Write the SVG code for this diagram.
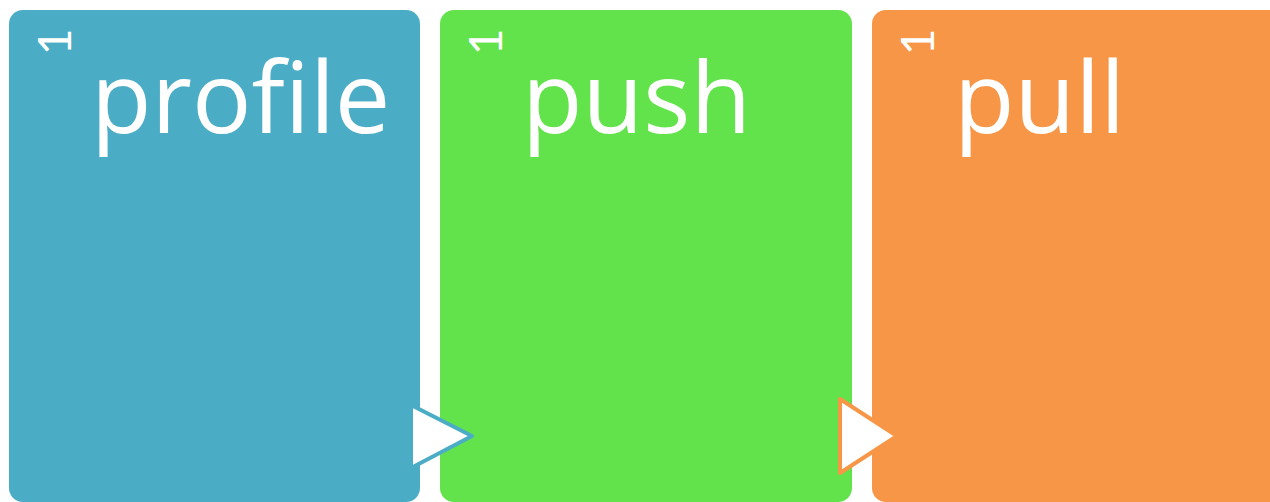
<svg xmlns="http://www.w3.org/2000/svg" width="1270" height="502" viewBox="0 0 1270 502">
<style>
.title{font-family:"Open Sans","Liberation Sans",sans-serif;font-size:99px;fill:#ffffff}
.num{font-family:Lato,"DejaVu Sans",sans-serif;font-size:46px;fill:#ffffff;text-anchor:middle}
.arrow{fill:#ffffff;stroke-width:4;stroke-linejoin:round}
</style>
<rect width="1270" height="502" fill="#ffffff"/>
<g id="node-profile">
<rect x="9" y="10" width="411" height="492" rx="14" fill="#4BACC6"/>
<text class="num" transform="translate(71,42) rotate(-90)">1</text>
<text class="title" x="91" y="133">profile</text>
</g>
<g id="node-push">
<rect x="440" y="10" width="412" height="492" rx="14" fill="#63E34B"/>
<text class="num" transform="translate(502,42) rotate(-90)">1</text>
<text class="title" x="522" y="133">push</text>
</g>
<g id="node-pull">
<rect x="872" y="10" width="430" height="492" rx="14" fill="#F79646"/>
<text class="num" transform="translate(934,42) rotate(-90)">1</text>
<text class="title" x="954" y="133">pull</text>
</g>
<g id="connectors">
<polygon class="arrow" points="411,405 472,436 411,468" stroke="#4BACC6"/>
<polygon class="arrow" points="840,399 897,436 840,473" stroke="#F79646"/>
</g>
</svg>
